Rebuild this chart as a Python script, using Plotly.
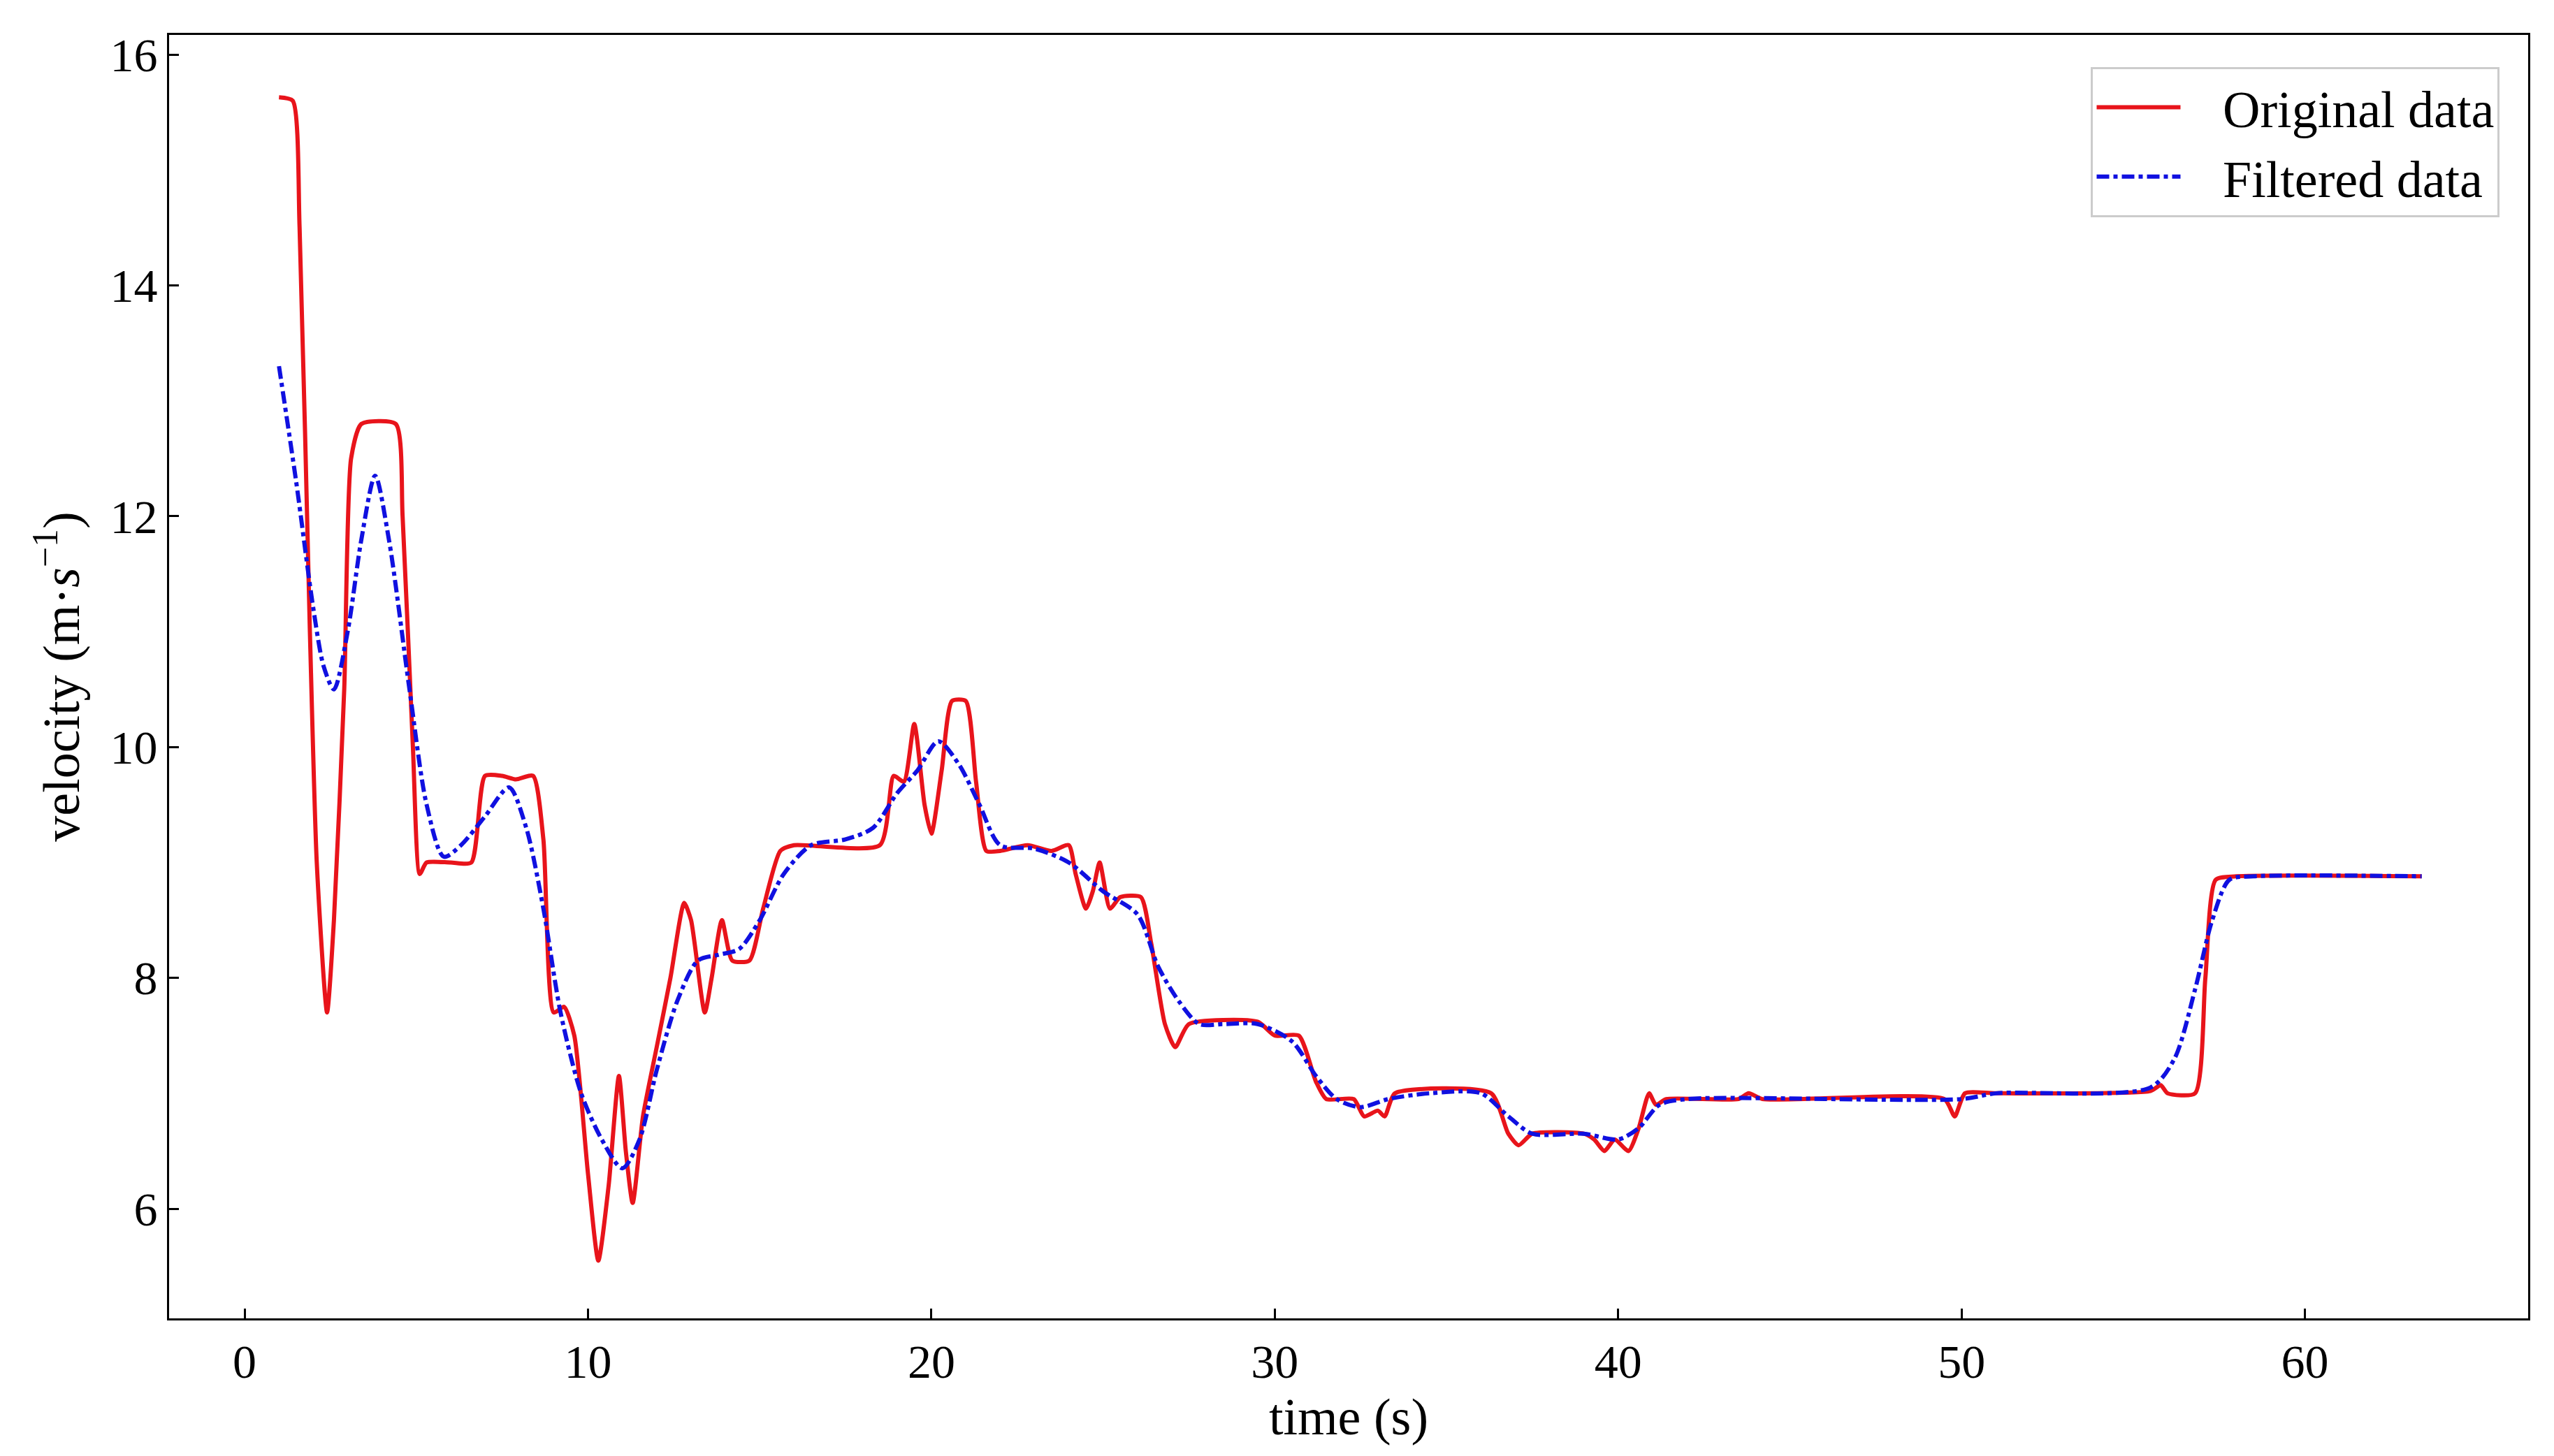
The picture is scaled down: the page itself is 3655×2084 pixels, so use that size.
import plotly.graph_objects as go

# original signal
t_orig = [1.0, 1.4, 1.6, 1.9, 2.1, 2.4, 2.6, 2.9, 3.1, 3.4, 4.4, 4.6, 4.9, 5.1, 5.3, 6.0, 6.6,
          7.0, 7.5, 7.9, 8.4, 8.7, 9.0, 9.3, 9.6, 10.0, 10.3, 10.6, 10.9, 11.1, 11.3, 11.6, 12.0,
          12.4, 12.8, 13.0, 13.4, 13.6, 13.9, 14.2, 14.7, 15.1, 15.6, 16.0, 18.5, 18.9, 19.2,
          19.5, 19.8, 20.0, 20.3, 20.6, 21.0, 21.3, 21.6, 22.0, 22.8, 23.5, 24.0, 24.2, 24.5,
          24.7, 24.9, 25.2, 25.5, 26.1, 26.4, 26.8, 27.1, 27.5, 29.5, 30.0, 30.7, 31.2, 31.5,
          32.3, 32.6, 33.0, 33.2, 33.5, 36.3, 36.8, 37.1, 37.5, 39.0, 39.3, 39.6, 39.9, 40.3,
          40.6, 40.9, 41.1, 41.4, 43.5, 43.8, 44.2, 49.5, 49.8, 50.1, 51.0, 55.5, 55.8, 56.0,
          56.8, 57.1, 57.4, 58.0, 63.4]
v_orig = [15.63, 15.6, 14.5, 11.0, 9.0, 7.7, 8.5, 10.5, 12.5, 12.8, 12.8, 12.0, 10.0, 8.9, 9.0,
          9.0, 9.0, 9.75, 9.75, 9.72, 9.75, 9.2, 7.7, 7.75, 7.5, 6.3, 5.55, 6.2, 7.15, 6.5, 6.05,
          6.8, 7.4, 8.0, 8.65, 8.5, 7.7, 8.0, 8.5, 8.15, 8.15, 8.6, 9.1, 9.15, 9.15, 9.75, 9.7,
          10.2, 9.5, 9.25, 9.8, 10.4, 10.4, 9.7, 9.1, 9.1, 9.15, 9.1, 9.15, 8.9, 8.6, 8.75, 9.0,
          8.6, 8.7, 8.7, 8.3, 7.6, 7.4, 7.6, 7.62, 7.5, 7.5, 7.1, 6.95, 6.95, 6.8, 6.85, 6.8,
          7.0, 7.0, 6.65, 6.55, 6.65, 6.65, 6.6, 6.5, 6.6, 6.5, 6.7, 7.0, 6.9, 6.95, 6.95, 7.0,
          6.95, 6.95, 6.8, 7.0, 7.0, 7.02, 7.07, 7.0, 7.0, 8.0, 8.85, 8.88, 8.88]

# filtered signal
t_filt = [1.0, 1.5, 2.0, 2.3, 2.6, 3.0, 3.4, 3.8, 4.2, 4.8, 5.3, 5.8, 6.3, 7.0, 7.7, 8.2, 8.7,
          9.2, 9.8, 10.4, 11.0, 11.5, 12.0, 12.6, 13.2, 13.8, 14.4, 15.0, 15.7, 16.5, 17.5,
          18.3, 19.0, 19.6, 20.2, 20.8, 21.4, 22.0, 23.0, 24.0, 25.0, 26.0, 26.6, 27.2, 27.8,
          28.5, 29.5, 30.5, 31.2, 31.8, 32.5, 33.3, 34.5, 36.0, 36.8, 37.5, 39.0, 40.0, 40.6,
          41.2, 42.0, 50.0, 51.0, 55.5, 56.2, 56.8, 57.3, 57.8, 58.5, 63.4]
v_filt = [13.3, 12.3, 11.2, 10.7, 10.5, 11.0, 11.8, 12.35, 11.8, 10.5, 9.5, 9.05, 9.15, 9.4,
          9.65, 9.3, 8.6, 7.7, 7.0, 6.6, 6.35, 6.6, 7.2, 7.8, 8.15, 8.2, 8.25, 8.5, 8.9, 9.15,
          9.2, 9.3, 9.6, 9.8, 10.05, 9.85, 9.5, 9.15, 9.12, 9.0, 8.75, 8.55, 8.1, 7.8, 7.6, 7.6,
          7.6, 7.45, 7.15, 6.95, 6.88, 6.95, 7.0, 7.0, 6.8, 6.65, 6.65, 6.6, 6.7, 6.9, 6.95,
          6.95, 7.0, 7.05, 7.3, 7.9, 8.5, 8.85, 8.88, 8.88]

font = "Liberation Serif"

fig = go.Figure()
fig.add_trace(go.Scatter(x=t_orig, y=v_orig, mode="lines", name="   Original data",
                         line=dict(color="#e8141b", width=6, shape="spline", smoothing=0.6)))
fig.add_trace(go.Scatter(x=t_filt, y=v_filt, mode="lines", name="   Filtered data",
                         line=dict(color="#1010e0", width=6, dash="dashdot", shape="spline",
                                   smoothing=0.8)))

axis = dict(showgrid=False, zeroline=False, showline=True, linecolor="black", linewidth=3,
            mirror=True, ticks="inside", ticklen=14, tickwidth=3, tickcolor="black",
            tickfont=dict(family=font, size=68, color="black"))
fig.update_xaxes(**axis, range=[-2.2, 66.5], tickvals=[0, 10, 20, 30, 40, 50, 60],
                 title=dict(text="time (s)", font=dict(family=font, size=74, color="black"),
                            standoff=8))
fig.update_yaxes(**axis, range=[5.05, 16.17], tickvals=[6, 8, 10, 12, 14, 16],
                 title=dict(text="velocity (m·<i>s</i><sup>−1</sup>)",
                            font=dict(family=font, size=74, color="black"), standoff=20))
fig.update_layout(
    width=3655, height=2084, plot_bgcolor="white", paper_bgcolor="white",
    margin=dict(l=234, r=45, t=42, b=205),
    legend=dict(x=0.988, y=0.975, xanchor="right", yanchor="top",
                bordercolor="#cccccc", borderwidth=3, bgcolor="white",
                font=dict(family=font, size=74, color="black"), itemwidth=120,
                tracegroupgap=10),
)
fig.write_html("out.html")
